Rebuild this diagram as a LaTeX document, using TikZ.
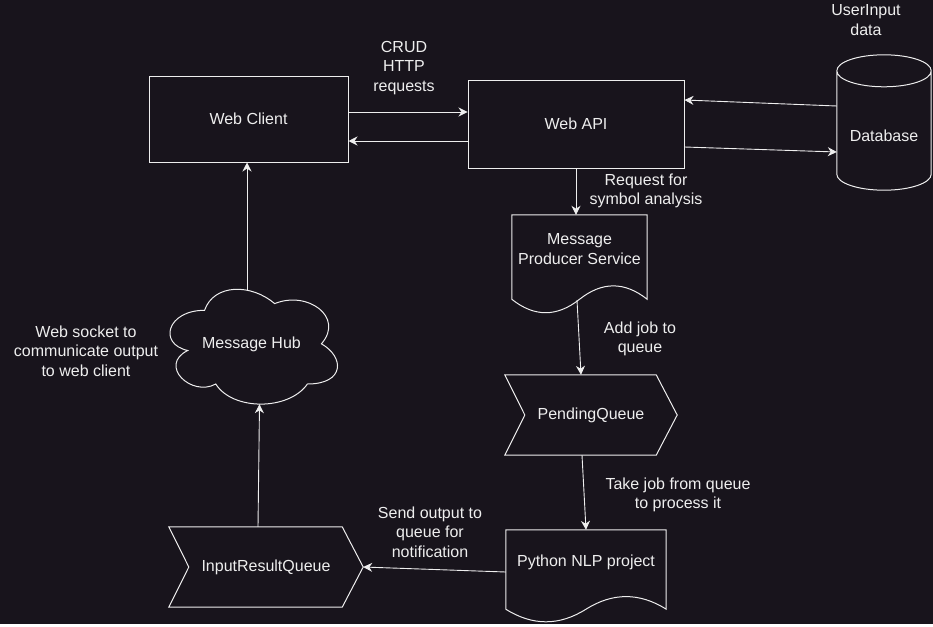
\documentclass[tikz,border=0pt]{standalone}
\usepackage{fontspec}
\setmainfont{Liberation Sans}
\usepackage{tikz}
\usetikzlibrary{arrows.meta, positioning, calc}
\definecolor{bgcol}{RGB}{24,20,28}
\definecolor{inkcol}{RGB}{238,238,238}

% Outlines drawn round the (invisible) area nodes
\newcommand{\docshape}[1]{%
  \draw[shapeline] let \p1=(#1.north west), \p2=(#1.south east) in
    (\p1) -- (\x2,\y1) -- (\x2,{\y2+0.15*(\y1-\y2)})
    .. controls ({\x1+0.8333*(\x2-\x1)},{\y2+0.33*(\y1-\y2)})
       and ({\x1+0.6667*(\x2-\x1)},{\y2+0.33*(\y1-\y2)})
    .. ({\x1+0.5*(\x2-\x1)},{\y2+0.15*(\y1-\y2)})
    .. controls ({\x1+0.3333*(\x2-\x1)},{\y2-0.03*(\y1-\y2)})
       and ({\x1+0.1667*(\x2-\x1)},{\y2-0.03*(\y1-\y2)})
    .. (\x1,{\y2+0.15*(\y1-\y2)}) -- cycle;}
\newcommand{\queueshape}[1]{%
  \draw[shapeline] let \p1=(#1.north west), \p2=(#1.south east) in
    (\p1) -- ({\x2-21pt},\y1) -- (\x2,{(\y1+\y2)/2}) -- ({\x2-21pt},\y2)
    -- (\x1,\y2) -- ({\x1+20pt},{(\y1+\y2)/2}) -- cycle;}
\newcommand{\dbshape}[1]{%
  \draw[shapeline] let \p1=(#1.north west), \p2=(#1.south east) in
    (\x1,{\y1-16pt}) -- (\x1,{\y2+16pt})
    arc[start angle=180, end angle=360, x radius={(\x2-\x1)/2}, y radius=16pt]
    -- (\x2,{\y1-16pt})
    arc[start angle=0, end angle=180, x radius={(\x2-\x1)/2}, y radius=16pt]
    arc[start angle=180, end angle=360, x radius={(\x2-\x1)/2}, y radius=16pt];}
% #1 node, #2 width, #3 height
\newcommand{\cloudshape}[3]{%
  \begin{scope}[shift={(#1.north west)}, x=#2pt, y=-#3pt]
    \draw[shapeline] (0.25,0.25)
      .. controls (0.05,0.25) and (0,0.5) .. (0.16,0.55)
      .. controls (0,0.66) and (0.18,0.9) .. (0.31,0.8)
      .. controls (0.4,1) and (0.7,1) .. (0.8,0.8)
      .. controls (1,0.8) and (1,0.6) .. (0.875,0.5)
      .. controls (1,0.3) and (0.8,0.1) .. (0.625,0.2)
      .. controls (0.5,0.05) and (0.3,0.05) .. (0.25,0.25) -- cycle;
  \end{scope}}

\begin{document}
\begin{tikzpicture}[x=1pt, y=-1pt,
  font=\fontsize{16}{19.5}\selectfont,
  shapeline/.style={draw=inkcol, line width=1pt},
  box/.style={shapeline, rectangle, text=inkcol, align=center, inner sep=0pt},
  area/.style={rectangle, inner sep=0pt, text=inkcol, align=center},
  note/.style={text=inkcol, align=center, inner sep=0pt},
  conn/.style={inkcol, line width=0.9pt, -{Stealth[length=9pt, width=9pt]}}]

  \fill[bgcol] (0,0) rectangle (933,624);

  % Services and stores
  \node[box, minimum width=199pt, minimum height=86pt] (client) at (248.5,119) {Web Client};
  \node[box, minimum width=216pt, minimum height=88pt] (api) at (576,124) {Web API};
  \node[area, minimum width=94pt, minimum height=135pt,
        label={[note, yshift=-13pt]center:Database}] (db) at (884,122.5) {};
  \node[area, minimum width=135pt, minimum height=99pt,
        label={[note, yshift=15.5pt]center:Message\\Producer Service}] (producer) at (579.5,264.5) {};
  \node[area, minimum width=172pt, minimum height=80pt] (pending) at (591,415) {PendingQueue};
  \node[area, minimum width=160pt, minimum height=93pt,
        label={[note, yshift=14.5pt]center:Python NLP project}] (nlp) at (586,576.5) {};
  \node[area, minimum width=194pt, minimum height=80pt] (irq) at (266,567) {InputResultQueue};
  \node[area, minimum width=187pt, minimum height=134pt] (hub) at (251.5,344) {Message Hub};

  \docshape{producer}
  \docshape{nlp}
  \queueshape{pending}
  \queueshape{irq}
  \dbshape{db}
  \cloudshape{hub}{187}{134}

  % Texts beside the connectors
  \node[note] (userlbl) at (866,20) {UserInput\\data};
  \node[note] (crudlbl) at (404,68) {CRUD\\HTTP\\requests};
  \node[note] (reqlbl) at (646,191) {Request for\\symbol analysis};
  \node[note] (addlbl) at (640,339) {Add job to\\queue};
  \node[note] (takelbl) at (678,495) {Take job from queue\\to process it};
  \node[note] (sendlbl) at (430,532) {Send output to\\queue for\\notification};
  \node[note] (socketlbl) at (86,351) {Web socket to\\communicate output\\to web client};

  % Connectors
  \draw[conn] ([yshift=7pt]client.east) -- ([yshift=12pt]api.west);
  \draw[conn] ([yshift=-17pt]api.west) -- ([yshift=-22pt]client.east);
  \draw[conn] ([yshift=16.5pt]db.west) -- ([yshift=24pt]api.east);
  \draw[conn] ([yshift=-23pt]api.east) -- ([yshift=-29.5pt]db.west);
  \draw[conn] (api.south) -- (api.south |- producer.north);
  \draw[conn] ([xshift=-2.5pt, yshift=14pt]producer.south) -- ([xshift=-10pt]pending.north);
  \draw[conn] ([xshift=-9pt]pending.south) -- (nlp.north);
  \draw[conn] ([yshift=4.5pt]nlp.west) -- (irq.east);
  \draw[conn] ([xshift=-8pt]irq.north) -- ([xshift=8pt, yshift=7pt]hub.south);
  \draw[conn] ([xshift=-4.5pt, yshift=-13pt]hub.north) -- ([xshift=-4.5pt]hub.north |- client.south);

\end{tikzpicture}
\end{document}
